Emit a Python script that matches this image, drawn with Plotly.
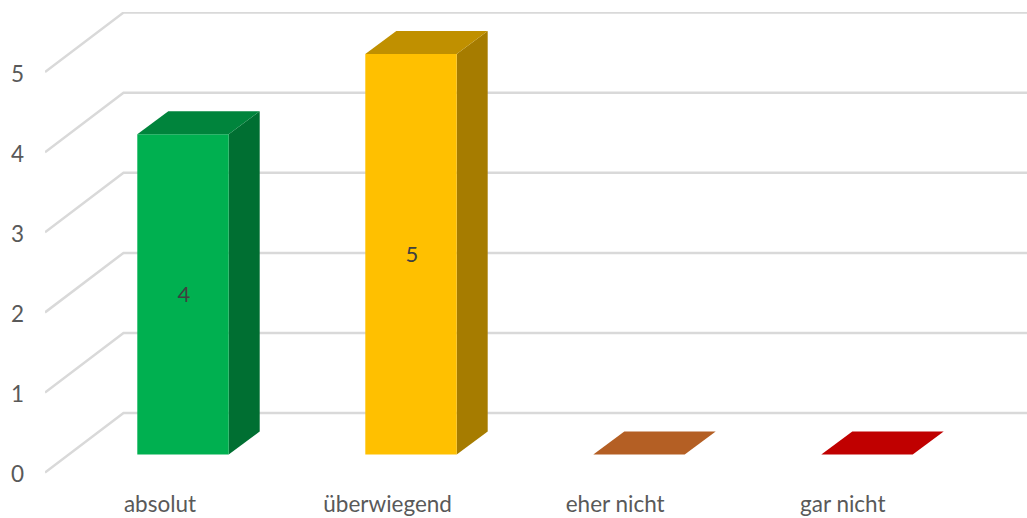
import plotly.graph_objects as go

# Data
categories = ["absolut", "überwiegend", "eher nicht", "gar nicht"]
values = [4, 5, 0, 0]
y_ticks = [0, 1, 2, 3, 4, 5]
front_colors = ["#00B050", "#FFC000", "#B45F24", "#C00000"]
top_colors = ["#00843C", "#C09000", "#B45F24", "#C00000"]
side_colors = ["#006F32", "#A67C00", "#B45F24", "#C00000"]

# Pseudo-3D projection, in axis units
W, H = 1027, 518
L, R, T, B = 45, 0, 12, 36
PX_X = 228.0    # pixels per category
PX_Y = 80.1     # pixels per value
wall_dx, wall_dy = 78.5 / PX_X, 59.5 / PX_Y
bar_dx, bar_dy = 31 / PX_X, 23 / PX_Y
bar_left, bar_right = -22.7 / PX_X, 68.7 / PX_X
bar_base = 18 / PX_Y
x_min = (L - 160) / PX_X
x_max = (W - R - 160) / PX_X
y_min = -9.4 / PX_Y
y_max = y_min + (H - B - T) / PX_Y
label_nudge = 2.0 / PX_Y
label_nudge_x = 1.0 / PX_X
tick_nudge = 2.0 / PX_Y
tick_step = 227.6 / PX_X

fig = go.Figure()


def poly(xs, ys, color):
    fig.add_trace(go.Scatter(x=xs, y=ys, mode="lines", fill="toself", fillcolor=color,
                             line=dict(width=0, color=color), hoverinfo="skip",
                             showlegend=False, cliponaxis=False))


for v in y_ticks:
    fig.add_trace(go.Scatter(
        x=[x_min, x_min + wall_dx, x_max],
        y=[v, v + wall_dy, v + wall_dy],
        mode="lines", line=dict(color="#D9D9D9", width=2.5),
        hoverinfo="skip", showlegend=False, cliponaxis=False))

for i, v in enumerate(values):
    x0, x1 = i + bar_left, i + bar_right
    y0, y1 = bar_base, bar_base + v
    if v > 0:
        poly([x1, x1 + bar_dx, x1 + bar_dx, x1, x1], [y0, y0 + bar_dy, y1 + bar_dy, y1, y0], side_colors[i])
        poly([x0, x1, x1, x0, x0], [y0, y0, y1, y1, y0], front_colors[i])
    poly([x0, x1, x1 + bar_dx, x0 + bar_dx, x0], [y1, y1, y1 + bar_dy, y1 + bar_dy, y1], top_colors[i])

fig.add_trace(go.Scatter(
    x=[i + (bar_left + bar_right) / 2 + label_nudge_x for i, v in enumerate(values) if v > 0],
    y=[bar_base + v / 2 - label_nudge for v in values if v > 0],
    text=[str(v) for v in values if v > 0],
    mode="text", textposition="middle center",
    textfont=dict(family="Lato", size=22, color="#404040"),
    hoverinfo="skip", showlegend=False, cliponaxis=False))

fig.update_layout(
    width=W, height=H, margin=dict(l=L, r=R, t=T, b=B),
    paper_bgcolor="white", plot_bgcolor="white",
    font=dict(family="Lato", size=22.5, color="#595959"),
    xaxis=dict(range=[x_min, x_max], tickmode="array",
               tickvals=[i * tick_step for i in range(len(categories))],
               ticktext=categories, showgrid=False, zeroline=False, showline=False,
               ticks="", ticklabelstandoff=6, fixedrange=True),
    yaxis=dict(range=[y_min, y_max], tickmode="array", tickvals=[t - tick_nudge for t in y_ticks],
               ticktext=[str(t) for t in y_ticks],
               showgrid=False, zeroline=False, showline=False, ticks="",
               ticklabelstandoff=20, fixedrange=True),
)

fig.write_html("out.html", config={"displayModeBar": False},
               post_script="document.body.style.margin='0';document.body.style.overflow='hidden';")
